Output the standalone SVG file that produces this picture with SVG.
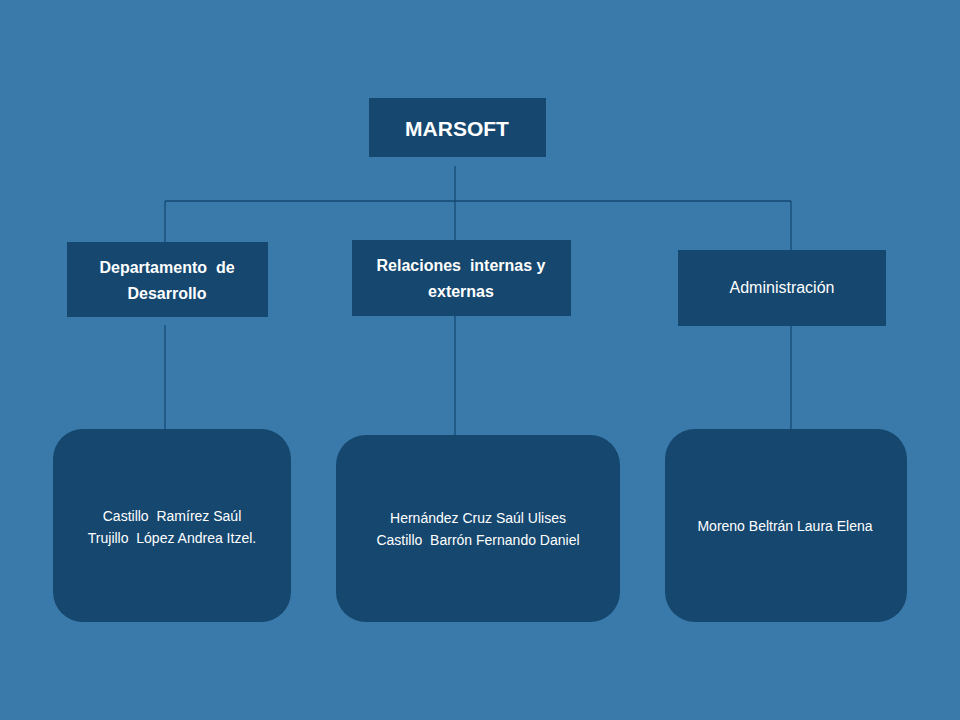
<svg xmlns="http://www.w3.org/2000/svg" width="960" height="720" viewBox="0 0 960 720">
<style>
.box{fill:#15476f}
.t{font-family:"Liberation Sans",Arial,sans-serif;fill:#ffffff;text-anchor:middle;white-space:pre}
.b{font-weight:bold}
.ln{stroke:#154a73;stroke-width:1.3;fill:none}
</style>
<rect width="960" height="720" fill="#3a7aab"/>
<g id="connectors">
<path class="ln" d="M455 166V201M165 201H791M165 201V242M455 201V240M791 201V250M165 325V430M455 316V436M791 326V430"/>
</g>
<g id="marsoft">
<rect class="box" x="369" y="98" width="177" height="59"/>
<text class="t b" x="457" y="136" font-size="21">MARSOFT</text>
</g>
<g id="desarrollo">
<rect class="box" x="67" y="242" width="201" height="75"/>
<text class="t b" x="167" y="273" font-size="16">Departamento  de</text>
<text class="t b" x="167" y="299" font-size="16">Desarrollo</text>
</g>
<g id="relaciones">
<rect class="box" x="352" y="240" width="219" height="76"/>
<text class="t b" x="461" y="271" font-size="16">Relaciones  internas y</text>
<text class="t b" x="461" y="297" font-size="16">externas</text>
</g>
<g id="administracion">
<rect class="box" x="678" y="250" width="208" height="76"/>
<text class="t" x="782" y="293" font-size="16">Administración</text>
</g>
<g id="equipo-desarrollo">
<rect class="box" x="53" y="429" width="238" height="193" rx="30"/>
<text class="t" x="172" y="521" font-size="14">Castillo  Ramírez Saúl</text>
<text class="t" x="172" y="543" font-size="14">Trujillo  López Andrea Itzel.</text>
</g>
<g id="equipo-relaciones">
<rect class="box" x="336" y="435" width="284" height="187" rx="30"/>
<text class="t" x="478" y="523" font-size="14">Hernández Cruz Saúl Ulises</text>
<text class="t" x="478" y="545" font-size="14">Castillo  Barrón Fernando Daniel</text>
</g>
<g id="equipo-administracion">
<rect class="box" x="665" y="429" width="242" height="193" rx="30"/>
<text class="t" x="785" y="531" font-size="14">Moreno Beltrán Laura Elena</text>
</g>
</svg>
